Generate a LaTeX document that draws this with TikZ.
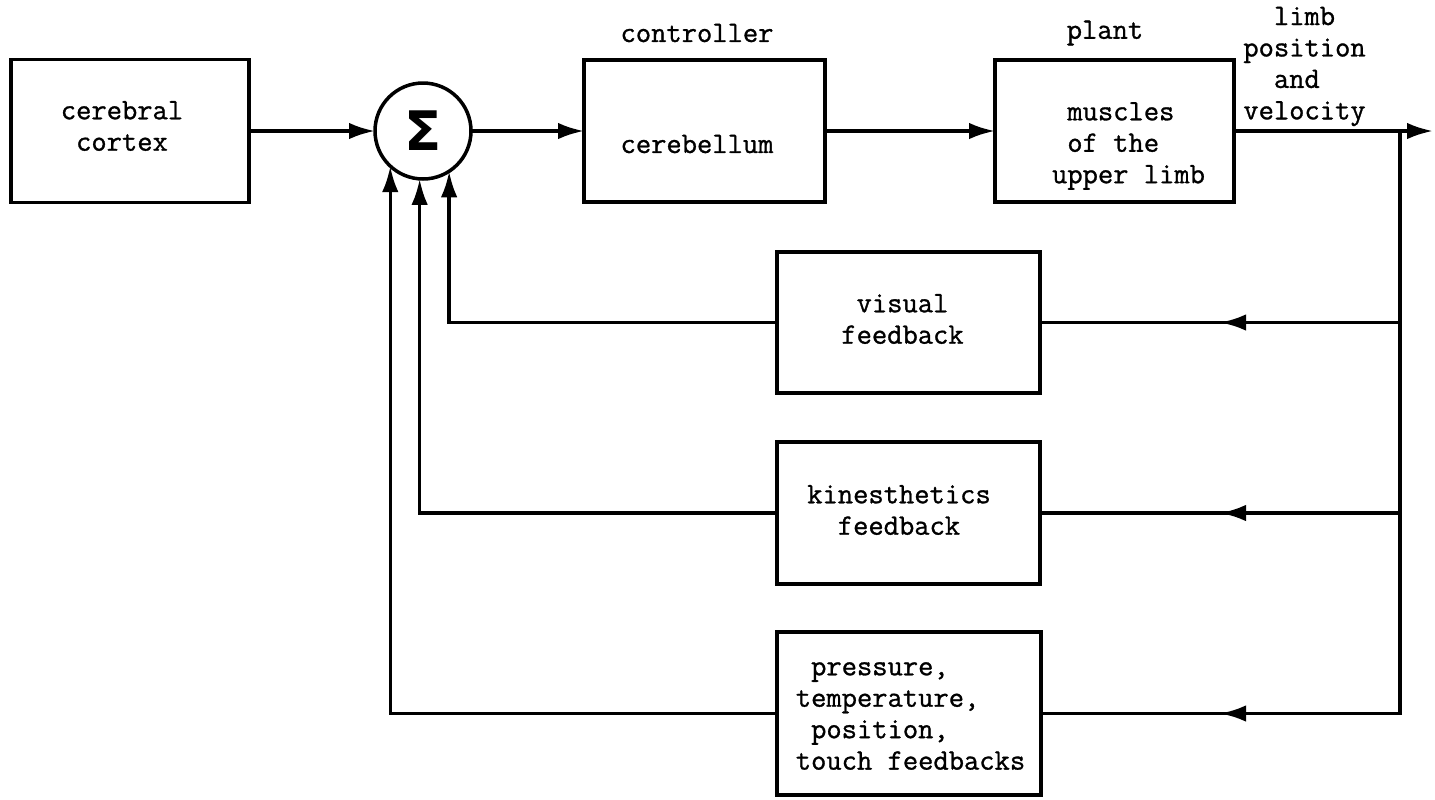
\documentclass[tikz,border=0pt]{standalone}
\usepackage{fontspec}
\setmonofont{Latin Modern Mono}[FakeBold=1]
\newfontfamily\sigmafont{DejaVu Sans}
\usetikzlibrary{arrows.meta,decorations.markings}
\newcommand\blankch{\hphantom{x}}

\begin{document}
\begin{tikzpicture}[x=0.02cm, y=-0.02cm, >={Latex[length=5.2mm,width=3.3mm]},
  font=\ttfamily\fontsize{16.9}{17.9}\selectfont,
  box/.style={draw, line width=2pt, inner sep=0pt, outer sep=0pt},
  txt/.style={inner sep=0pt, align=left},
  wire/.style={line width=2pt, line cap=rect},
  back/.style={wire, postaction={decorate}, decoration={markings,
    mark=at position 3.6cm with {\arrow{>}}}}]
\useasboundingbox (0,0) rectangle (1435,799);
% forward path
\node[box, minimum width=4.76cm, minimum height=2.86cm] (cortex) at (130,131) {};
\node[txt] (cortex-t) at (122,126) {cerebral\\\blankch cortex};
\node[box, circle, minimum size=1.92cm] (sum) at (423,131)
  {\sigmafont\bfseries\fontsize{31}{31}\selectfont Σ};
\node[box, minimum width=4.82cm, minimum height=2.84cm] (cb) at (704.5,131) {};
\node[txt] (cb-t) at (697,144) {cerebellum};
\node[txt] (cb-l) at (697,33) {controller};
\node[box, minimum width=4.78cm, minimum height=2.84cm] (plant) at (1114.5,131) {};
\node[txt] (plant-t) at (1128.5,146) {\blankch muscles\\\blankch of the\\upper limb};
\node[txt] (plant-l) at (1105,33) {plant};
\node[txt] (out-l) at (1304.5,66.5)
  {\blankch\blankch limb\\position\\\blankch\blankch and\\velocity};
% feedback blocks
\node[box, minimum width=5.26cm, minimum height=2.82cm] (vis) at (908.5,322.5) {};
\node[txt] (vis-t) at (902.5,319) {\blankch visual\\feedback};
\node[box, minimum width=5.26cm, minimum height=2.84cm] (kin) at (908.5,513) {};
\node[txt] (kin-t) at (899,510) {kinesthetics\\\blankch\blankch feedback};
\node[box, minimum width=5.28cm, minimum height=3.26cm] (touch) at (909,713.5) {};
\node[txt] (touch-t) at (910.5,716)
  {\blankch pressure,\\temperature,\\\blankch position,\\touch feedbacks};
\coordinate (out-end) at (1433,131);
\coordinate (tap) at (1400,131);
\draw[wire,->] (cortex) -- (sum);
\draw[wire,->] (sum) -- (cb);
\draw[wire,->] (cb) -- (plant);
\draw[wire,->] (plant) -- (out-end);
\draw[wire] (tap) -- (tap |- touch);
\draw[back] (tap |- vis) -- (vis);
\draw[back] (tap |- kin) -- (kin);
\draw[back] (tap |- touch) -- (touch);
\draw[wire,->] (vis) -| (sum.-57);
\draw[wire,->] (kin) -| (sum.-94);
\draw[wire,->] (touch) -| (sum.-133);
\end{tikzpicture}
\end{document}
